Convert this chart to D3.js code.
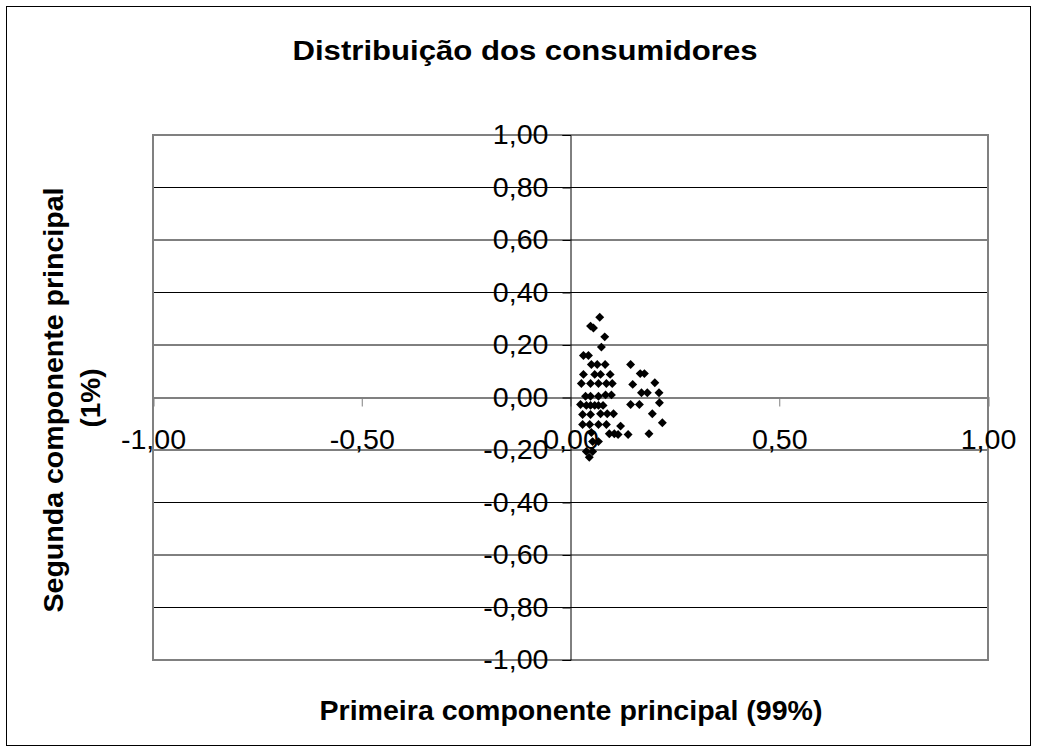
<!DOCTYPE html>
<html><head><meta charset="utf-8">
<script src="https://cdnjs.cloudflare.com/ajax/libs/d3/7.8.5/d3.min.js"></script>
<style>
body{margin:0;background:#fff;}
svg text{font-family:"Liberation Sans",Arial,sans-serif;fill:#000;}
.ytick text{transform-box:fill-box;transform-origin:right center;transform:scaleX(1.04);}
.xtick text{transform-box:fill-box;transform-origin:center;transform:scaleX(1.04);}
</style></head>
<body>
<script>
const title = "Distribuição dos consumidores";
const xTitle = "Primeira componente principal (99%)";
const yTitle1 = "Segunda componente principal";
const yTitle2 = "(1%)";
const xTicks = [-1, -0.5, 0, 0.5, 1];
const yTicks = [-1, -0.8, -0.6, -0.4, -0.2, 0, 0.2, 0.4, 0.6, 0.8, 1];
const pc1 = [0.070,0.048,0.055,0.082,0.074,
 0.031,0.043,
 0.050,0.064,0.083,0.144,
 0.031,0.058,0.072,0.095,0.167,0.177,
 0.026,0.048,0.067,0.086,0.100,0.149,0.202,
 0.036,0.048,0.067,0.084,0.098,0.170,0.184,0.212,
 0.024,0.038,0.048,0.058,0.067,0.078,0.144,0.165,0.213,
 0.029,0.048,0.072,0.088,0.103,0.196,
 0.029,0.046,0.067,0.086,0.120,0.220,
 0.050,0.093,0.105,0.114,0.138,0.188,
 0.053,0.067,
 0.038,0.053,
 0.045];
const pc2 = [0.306,0.272,0.265,0.231,0.192,
 0.160,0.160,
 0.126,0.126,0.126,0.126,
 0.088,0.088,0.088,0.088,0.091,0.091,
 0.053,0.053,0.053,0.053,0.053,0.050,0.056,
 0.005,0.005,0.005,0.010,0.010,0.018,0.018,0.018,
 -0.027,-0.030,-0.030,-0.030,-0.030,-0.030,-0.027,-0.027,-0.020,
 -0.065,-0.065,-0.062,-0.062,-0.062,-0.062,
 -0.103,-0.103,-0.103,-0.103,-0.109,-0.096,
 -0.133,-0.138,-0.138,-0.141,-0.141,-0.138,
 -0.168,-0.168,
 -0.206,-0.206,
 -0.228];

const W = 1038, H = 753;
const svg = d3.select("body").append("svg").attr("width", W).attr("height", H);
svg.append("rect").attr("x", 6.5).attr("y", 6.5).attr("width", 1024).attr("height", 739)
  .attr("fill", "#fff").attr("stroke", "#000").attr("stroke-width", 1);

const x = d3.scaleLinear().domain([-1, 1]).range([153, 988]);
const y = d3.scaleLinear().domain([-1, 1]).range([660, 135]);
const fmt = d => d.toFixed(2).replace(".", ",");

// gridlines
svg.append("g").selectAll("line").data(yTicks).join("line")
  .attr("x1", x(-1)).attr("x2", x(1)).attr("y1", d => y(d)).attr("y2", d => y(d))
  .attr("stroke", "#000").attr("stroke-width", 1);

// plot border
svg.append("rect").attr("x", x(-1)).attr("y", y(1)).attr("width", x(1) - x(-1)).attr("height", y(-1) - y(1))
  .attr("fill", "none").attr("stroke", "#808080").attr("stroke-width", 2);

// x axis at y=0
const gx = svg.append("g").attr("class", "xtick").attr("transform", `translate(0,${y(0)})`)
  .call(d3.axisBottom(x).tickValues(xTicks).tickSize(9).tickPadding(23).tickFormat(fmt));
gx.select(".domain").attr("stroke", "#808080").attr("stroke-width", 2);
gx.selectAll(".tick line").attr("stroke", "#808080").attr("stroke-width", 1);
gx.selectAll("text").attr("font-size", 27.5).attr("fill", "#000");

// y axis at x=0
const gy = svg.append("g").attr("class", "ytick").attr("transform", `translate(${x(0)},0)`)
  .call(d3.axisLeft(y).tickValues(yTicks).tickSize(8).tickPadding(14).tickFormat(fmt));
gy.select(".domain").attr("stroke", "#000").attr("stroke-width", 1);
gy.selectAll(".tick line").attr("stroke", "#000");
gy.selectAll("text").attr("font-size", 27.5).attr("fill", "#000");

// points
const pts = pc1.map((v, i) => [v, pc2[i]]);
svg.append("g").selectAll("path").data(pts).join("path")
  .attr("d", d3.symbol(d3.symbolSquare).size(40))
  .attr("transform", d => `translate(${x(d[0])},${y(d[1])}) rotate(45)`)
  .attr("fill", "#000");

// titles
svg.append("text").attr("x", 525).attr("y", 60).attr("text-anchor", "middle")
  .attr("font-size", 28).attr("font-weight", "bold").attr("textLength", 465)
  .attr("lengthAdjust", "spacingAndGlyphs").text(title);
svg.append("text").attr("x", 571).attr("y", 720).attr("text-anchor", "middle")
  .attr("font-size", 28).attr("font-weight", "bold").attr("textLength", 503)
  .attr("lengthAdjust", "spacingAndGlyphs").text(xTitle);
svg.append("text").attr("transform", "translate(63,400) rotate(-90)").attr("text-anchor", "middle")
  .attr("font-size", 28).attr("font-weight", "bold").attr("textLength", 425)
  .attr("lengthAdjust", "spacingAndGlyphs").text(yTitle1);
svg.append("text").attr("transform", "translate(100,398) rotate(-90)").attr("text-anchor", "middle")
  .attr("font-size", 28).attr("font-weight", "bold").text(yTitle2);
</script>
</body></html>
